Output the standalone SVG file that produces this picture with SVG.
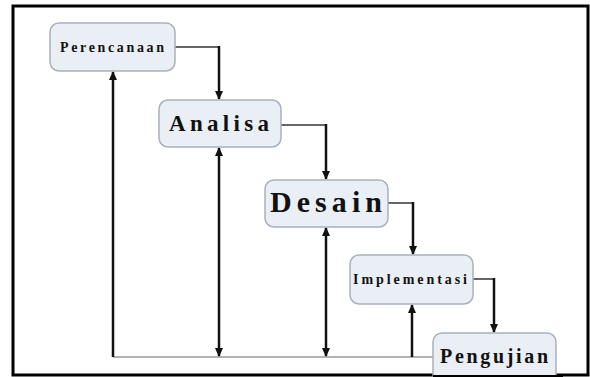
<svg xmlns="http://www.w3.org/2000/svg" width="590" height="377" viewBox="0 0 590 377">
<style>
.node{fill:#eaeff6;stroke:#a9b1bb;stroke-width:1.5}
.t{font-family:"Liberation Serif","Times New Roman",serif;font-weight:bold;fill:#111;text-anchor:middle}
.h{stroke:#333;stroke-width:1.5;fill:none}
.v{stroke:#111;stroke-width:2.5;fill:none}
.fb{stroke:#9a9a9a;stroke-width:1.5;fill:none}
</style>
<defs>
<marker id="ah" markerUnits="userSpaceOnUse" markerWidth="9" markerHeight="8" refX="8" refY="4" orient="auto-start-reverse">
<path d="M0,0 L9,4 L0,8 z" fill="#111"/>
</marker>
</defs>
<rect x="0" y="0" width="590" height="377" fill="#fff"/>
<rect x="13" y="6" width="575" height="369" fill="#fff" stroke="#000" stroke-width="3"/>
<g id="connectors">
<path class="h" d="M175,47 H219"/>
<path class="v" d="M219,46 V99" marker-end="url(#ah)"/>
<path class="h" d="M281,125 H326"/>
<path class="v" d="M326,124 V179" marker-end="url(#ah)"/>
<path class="h" d="M388,203 H413"/>
<path class="v" d="M413,202 V254" marker-end="url(#ah)"/>
<path class="h" d="M473,279 H494"/>
<path class="v" d="M494,278 V332" marker-end="url(#ah)"/>
<path class="fb" d="M113,357 H433"/>
<path class="v" d="M113,357 V72" marker-end="url(#ah)"/>
<path class="v" d="M219,148 V356" marker-start="url(#ah)" marker-end="url(#ah)"/>
<path class="v" d="M326,228 V356" marker-start="url(#ah)" marker-end="url(#ah)"/>
<path class="v" d="M412,357 V305" marker-end="url(#ah)"/>
</g>
<g id="perencanaan">
<rect class="node" x="50" y="23" width="125" height="48" rx="9"/>
<text class="t" x="112" y="52" font-size="14" textLength="104" lengthAdjust="spacing">Perencanaan</text>
</g>
<g id="analisa">
<rect class="node" x="159" y="100" width="122" height="47" rx="9"/>
<text class="t" x="219" y="131" font-size="23" textLength="100" lengthAdjust="spacing">Analisa</text>
</g>
<g id="desain">
<rect class="node" x="265" y="180" width="123" height="47" rx="9"/>
<text class="t" x="326" y="212" font-size="30" textLength="112" lengthAdjust="spacing">Desain</text>
</g>
<g id="implementasi">
<rect class="node" x="350" y="255" width="123" height="49" rx="9"/>
<text class="t" x="410" y="284" font-size="14" textLength="114" lengthAdjust="spacing">Implementasi</text>
</g>
<g id="pengujian">
<rect class="node" x="433" y="333" width="123" height="50" rx="9"/>
<text class="t" x="494" y="363" font-size="20" textLength="108" lengthAdjust="spacing">Pengujian</text>
</g>
<rect x="433" y="375" width="130" height="2" fill="#000"/>
</svg>
